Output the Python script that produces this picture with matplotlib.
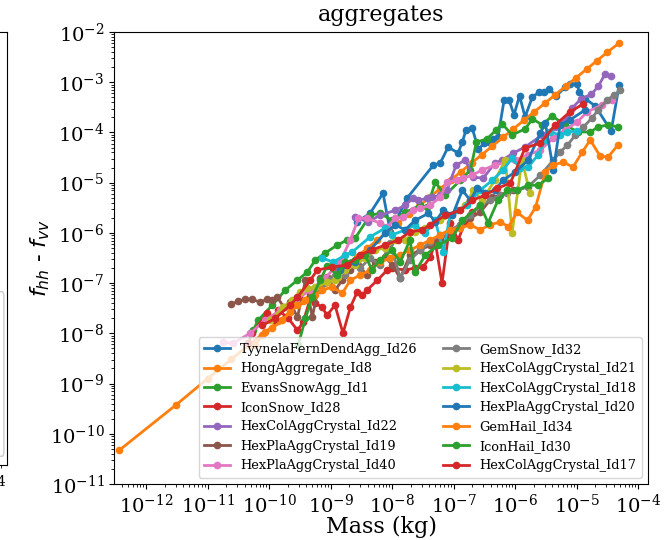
import matplotlib
matplotlib.use("Agg")
import matplotlib.pyplot as plt
import numpy as np
from matplotlib.patches import FancyBboxPatch
from matplotlib.ticker import LogLocator

plt.rcParams['font.family'] = 'serif'

# values, stored as log10(mass) / log10(f_hh - f_vv)
names = [
    "TyynelaFernDendAgg_Id26", "HongAggregate_Id8", "EvansSnowAgg_Id1",
    "IconSnow_Id28", "HexColAggCrystal_Id22", "HexPlaAggCrystal_Id19",
    "HexPlaAggCrystal_Id40", "GemSnow_Id32", "HexColAggCrystal_Id21",
    "HexColAggCrystal_Id18", "HexPlaAggCrystal_Id20", "GemHail_Id34",
    "IconHail_Id30", "HexColAggCrystal_Id17",
]

tyynela_m = [-8.57, -8.36, -8.15, -8.03, -7.76, -7.33, -7.22, -7.09, -6.93, -6.86, -6.80, -6.70,
             -6.60, -6.50, -6.42, -6.36, -6.28, -6.18, -6.10, -6.02, -5.93, -5.84, -5.72, -5.61,
             -5.53, -5.45, -5.33, -5.19, -5.11, -4.99, -4.96, -4.86, -4.70, -4.44, -4.31]
tyynela_f = [-5.78, -5.61, -5.21, -5.98, -5.31, -4.65, -4.61, -4.29, -4.41, -4.19, -3.95, -3.91,
             -4.33, -4.21, -4.19, -4.13, -4.09, -3.35, -3.35, -3.65, -3.27, -3.69, -3.29, -3.20,
             -3.20, -3.14, -3.27, -3.10, -3.04, -3.04, -3.20, -3.33, -3.47, -3.97, -3.06]

hong_m = [-12.44, -11.52, -11.00, -10.62, -10.33, -10.07, -9.85, -9.64, -9.45, -9.27, -9.09,
          -8.92, -8.75, -8.58, -8.41, -8.24, -8.07, -7.90, -7.73, -7.56, -7.39, -7.22, -7.05,
          -6.88, -6.71, -6.54, -6.37, -6.20, -6.03, -5.86, -5.69, -5.52, -5.35, -5.18, -5.01,
          -4.84, -4.67, -4.50, -4.31]
hong_f = [-10.33, -9.43, -8.90, -8.52, -8.23, -7.98, -7.76, -7.55, -7.35, -7.17, -6.99,
          -6.82, -6.65, -6.48, -6.31, -6.14, -5.97, -5.80, -5.63, -5.46, -5.29, -5.12, -4.95,
          -4.78, -4.61, -4.44, -4.27, -4.10, -3.93, -3.76, -3.59, -3.42, -3.25, -3.08, -2.91,
          -2.74, -2.57, -2.40, -2.22]

evans_m = [-10.26, -10.18, -9.95, -9.74, -9.54, -9.38, -9.25, -9.09, -8.89, -8.73, -8.60, -8.36,
           -8.20, -8.00, -7.79, -7.54, -7.43, -7.30, -7.14, -6.89, -6.73, -6.63, -6.46, -6.31,
           -6.21, -6.05, -5.84, -5.72, -5.56, -5.40, -5.19, -4.98, -4.78, -4.65, -4.49, -4.33]
evans_f = [-7.94, -7.74, -7.44, -7.14, -6.94, -6.78, -6.54, -6.40, -6.24, -6.14, -6.10, -5.65,
           -5.61, -5.75, -5.59, -5.45, -5.49, -4.99, -5.25, -4.95, -4.75, -4.19, -4.13, -3.95,
           -3.83, -4.05, -3.93, -3.73, -3.85, -3.67, -3.85, -3.99, -3.99, -3.89, -3.85, -3.89]

iconsnow_m = [-10.34, -10.28, -10.03, -9.90, -9.85, -9.69, -9.54, -9.45, -9.33, -9.25, -9.14,
              -9.06, -8.93, -8.80, -8.68, -8.57, -8.49, -8.41, -8.24, -8.08, -8.00, -7.79, -7.63,
              -7.50, -7.38, -7.30, -7.19, -7.06, -6.93, -6.81, -6.70]
iconsnow_f = [-8.20, -8.00, -7.60, -7.74, -7.54, -7.70, -7.94, -7.78, -7.30, -7.40, -7.48,
              -7.64, -7.44, -8.00, -7.48, -7.18, -7.24, -7.14, -6.94, -6.74, -6.70, -6.74, -6.70,
              -6.68, -6.48, -6.18, -7.00, -5.80, -6.14, -5.78, -5.59]

hexcol22_m = [-8.60, -8.39, -8.20, -7.95, -7.79, -7.66, -7.58, -7.43, -7.35, -7.22, -7.11, -6.96,
              -6.81, -6.68, -6.52, -6.33, -6.21, -6.03, -5.84, -5.56, -5.35, -5.15, -5.07, -4.93,
              -4.76, -4.65, -4.54, -4.44]
hexcol22_f = [-5.69, -5.78, -5.65, -5.55, -5.45, -5.31, -5.35, -5.31, -5.29, -5.25, -5.15, -4.65,
              -4.55, -4.89, -4.91, -4.61, -4.55, -4.41, -4.29, -4.05, -3.89, -3.71, -3.51, -3.33,
              -3.24, -3.08, -2.84, -2.88]

hexpla19_m = [-10.62, -10.50, -10.39, -10.28, -10.15, -10.03, -9.95, -9.87, -9.76, -9.66, -9.54,
              -9.41, -9.30, -9.17, -9.06, -8.93, -8.81, -8.68, -8.55, -8.41, -8.28, -8.11, -8.00,
              -7.87, -7.71, -7.54, -7.38, -7.22, -7.06, -6.89, -6.73, -6.57, -6.37, -6.24, -6.03]
hexpla19_f = [-7.42, -7.36, -7.32, -7.32, -7.38, -7.32, -7.34, -7.28, -7.48, -7.38, -7.68,
              -6.94, -7.68, -6.90, -6.88, -7.14, -6.94, -6.74, -6.64, -6.84, -6.58, -6.48, -6.64,
              -6.90, -6.44, -6.34, -6.24, -6.14, -5.98, -5.84, -5.71, -5.59, -5.29, -5.25, -5.15]

hexpla40_m = [-10.75, -10.59, -10.31, -10.07, -9.82, -9.58, -9.33, -9.09, -8.85, -8.68, -8.55,
              -8.41, -8.20, -8.08, -7.95, -7.82, -7.67, -7.54, -7.38, -7.22, -7.11, -6.94, -6.85,
              -6.70, -6.54, -6.33, -6.16, -6.00, -5.80, -5.59, -5.38, -5.19, -4.99, -4.83, -4.59,
              -4.43]
hexpla40_f = [-8.18, -8.20, -8.00, -7.74, -7.54, -7.34, -7.14, -6.90, -6.58, -6.14, -5.71,
              -5.71, -5.80, -5.88, -5.71, -5.69, -5.55, -5.51, -5.45, -5.29, -4.99, -4.95, -4.91,
              -4.85, -4.75, -4.65, -4.59, -4.55, -4.45, -4.35, -4.11, -3.95, -3.79, -3.59, -3.45,
              -3.35]

gemsnow_m = [-9.17, -9.01, -8.88, -8.76, -8.65, -8.52, -8.36, -8.20, -8.03, -7.87, -7.71, -7.54,
             -7.38, -7.22, -7.06, -6.89, -6.73, -6.57, -6.41, -6.24, -6.13, -5.97, -5.80, -5.59,
             -5.38, -5.27, -5.15, -5.02, -4.89, -4.75, -4.65, -4.50, -4.39, -4.29]
gemsnow_f = [-7.14, -6.94, -6.70, -6.84, -6.58, -6.70, -6.50, -6.64, -6.20, -6.90, -6.54, -6.34,
             -6.18, -6.04, -5.94, -5.84, -5.65, -5.45, -5.35, -5.25, -5.21, -5.15, -5.09, -4.85,
             -4.55, -4.39, -4.25, -4.05, -3.89, -3.71, -3.55, -3.35, -3.25, -3.16]

hexcol21_m = [-9.98, -9.77, -9.63, -9.50, -9.38, -9.25, -9.06, -8.93, -8.88, -8.76, -8.60, -8.44,
              -8.28, -8.11, -7.95, -7.79, -7.63, -7.46, -7.22, -7.02, -6.81, -6.68, -6.54, -6.33,
              -6.16, -6.05, -5.89, -5.76]
hexcol21_f = [-7.74, -7.48, -7.34, -7.18, -7.10, -7.08, -6.98, -6.94, -6.88, -6.74, -6.64, -6.50,
              -6.34, -6.30, -6.14, -6.14, -5.98, -5.90, -5.75, -5.65, -5.45, -5.15, -5.35, -4.95,
              -4.55, -6.00, -4.55, -5.21]

hexcol18_m = [-9.14, -8.96, -8.76, -8.65, -8.36, -8.11, -8.00, -7.79, -7.63, -7.46, -7.30, -7.17,
              -7.06, -6.94, -6.78, -6.57, -6.37, -6.20, -6.05, -5.92, -5.79, -5.63, -5.51, -5.43,
              -5.27, -5.15, -4.99]
hexcol18_f = [-6.50, -6.58, -6.44, -6.38, -6.08, -5.90, -6.04, -5.94, -5.84, -6.00, -5.75, -6.38,
              -5.65, -5.55, -5.45, -5.15, -4.95, -4.75, -4.51, -4.71, -4.69, -4.45, -4.15, -3.99,
              -4.05, -3.99, -3.97]

hexpla20_m = [-8.85, -8.60, -8.36, -8.11, -7.95, -7.79, -7.63, -7.41, -7.30, -7.17, -7.02, -6.86,
              -6.73, -6.62, -6.49, -6.33, -6.20, -6.00, -5.79, -5.59, -5.51, -5.38, -5.27, -5.11,
              -4.86]
hexpla20_f = [-6.74, -6.58, -6.34, -6.00, -5.84, -5.94, -5.75, -5.61, -5.78, -5.55, -5.65, -5.15,
              -5.35, -5.11, -5.21, -5.15, -4.95, -4.79, -4.55, -4.01, -3.81, -4.75, -3.85, -3.75,
              -3.55]

gemhail_m = [-10.23, -10.11, -9.95, -9.79, -9.66, -9.54, -9.41, -9.25, -9.14, -8.98, -8.81, -8.68,
             -8.52, -8.36, -8.20, -8.03, -7.87, -7.71, -7.54, -7.38, -7.22, -7.06, -6.89, -6.73,
             -6.57, -6.41, -6.24, -6.11, -5.97, -5.80, -5.67, -5.51, -5.38, -5.22, -5.06, -4.91,
             -4.78, -4.62, -4.49, -4.33]
gemhail_f = [-8.24, -8.04, -7.90, -7.74, -7.58, -7.44, -7.34, -7.24, -7.14, -7.08, -7.20, -6.94,
             -6.84, -6.74, -6.58, -6.50, -6.44, -6.34, -6.24, -6.14, -6.04, -5.94, -5.90, -5.84,
             -5.94, -5.84, -5.78, -5.88, -5.59, -5.75, -5.49, -4.79, -4.65, -4.59, -4.69, -4.39,
             -4.15, -4.47, -4.49, -4.25]

iconhail_m = [-9.53, -9.41, -9.30, -9.17, -9.06, -8.89, -8.76, -8.60, -8.44, -8.33, -8.20, -8.00,
              -7.87, -7.71, -7.63, -7.46, -7.25, -7.02, -6.86, -6.57, -6.44, -6.28, -6.13, -5.97,
              -5.79, -5.63, -5.46]
iconhail_f = [-8.24, -7.70, -7.28, -6.94, -6.66, -6.84, -6.58, -6.54, -6.44, -6.74, -6.54, -6.34,
              -6.58, -6.14, -6.78, -6.44, -6.24, -6.10, -5.75, -5.45, -5.80, -5.35, -5.15, -5.15,
              -5.05, -5.05, -4.91]

hexcol17_m = [-10.11, -9.90, -9.66, -9.54, -9.33, -9.22, -8.98, -8.73, -8.52, -8.33, -8.11, -7.90,
              -7.71, -7.51, -7.38, -7.14, -6.89, -6.70, -6.49, -6.29, -6.08, -5.84, -5.59, -5.35,
              -5.11, -4.89]
hexcol17_f = [-7.84, -7.70, -7.44, -7.28, -6.94, -6.74, -6.68, -6.64, -6.44, -6.34, -6.24, -6.14,
              -5.98, -5.94, -5.84, -5.65, -5.55, -5.35, -5.25, -5.11, -5.01, -4.31, -4.21, -3.85,
              -3.59, -3.43]

masses = [tyynela_m, hong_m, evans_m, iconsnow_m, hexcol22_m, hexpla19_m, hexpla40_m,
          gemsnow_m, hexcol21_m, hexcol18_m, hexpla20_m, gemhail_m, iconhail_m, hexcol17_m]
fdiffs = [tyynela_f, hong_f, evans_f, iconsnow_f, hexcol22_f, hexpla19_f, hexpla40_f,
          gemsnow_f, hexcol21_f, hexcol18_f, hexpla20_f, gemhail_f, iconhail_f, hexcol17_f]

fig = plt.figure(figsize=(6.64, 5.40), dpi=100)

# edge of the neighbouring panel, cut off by the crop
ax_left = fig.add_axes([-0.30, 0.139, 0.3105, 0.802])
ax_left.set_xscale('log')
ax_left.set_yscale('log')
ax_left.set_xlim(10**-6.96, 10**-3.61)
ax_left.set_ylim(1e-11, 1e-2)
ax_left.tick_params(labelsize=14)
ax_left.add_patch(FancyBboxPatch((0.5, 0.02), 0.485, 0.38, boxstyle="round,pad=0,rounding_size=0.01",
                                 transform=ax_left.transAxes, fc='white', ec='0.8', lw=1))

ax = fig.add_axes([0.172, 0.1037, 0.804, 0.837])
for name, m, f in zip(names, masses, fdiffs):
    ax.plot(10.0 ** np.array(m), 10.0 ** np.array(f), 'o-', lw=2, ms=4.5, label=name)

ax.set_xscale('log')
ax.set_yscale('log')
ax.set_xlim(10**-12.52, 10**-3.84)
ax.set_ylim(1e-11, 1e-2)
ax.yaxis.set_major_locator(LogLocator(base=10, numticks=15))
ax.yaxis.set_minor_locator(LogLocator(base=10, subs=np.arange(2, 10), numticks=15))
ax.xaxis.set_major_locator(LogLocator(base=10, numticks=15))
ax.xaxis.set_minor_locator(LogLocator(base=10, subs=np.arange(2, 10), numticks=15))
ax.tick_params(labelsize=14)
ax.set_xlabel('Mass (kg)', fontsize=16, labelpad=-1)
ax.set_ylabel(r'$f_{hh}$ - $f_{vv}$', fontsize=16, labelpad=-2)
ax.set_title('aggregates', fontsize=16, pad=8)
ax.legend(loc='lower right', ncol=2, fontsize=9.3)

fig.savefig('out.png', dpi=100)
